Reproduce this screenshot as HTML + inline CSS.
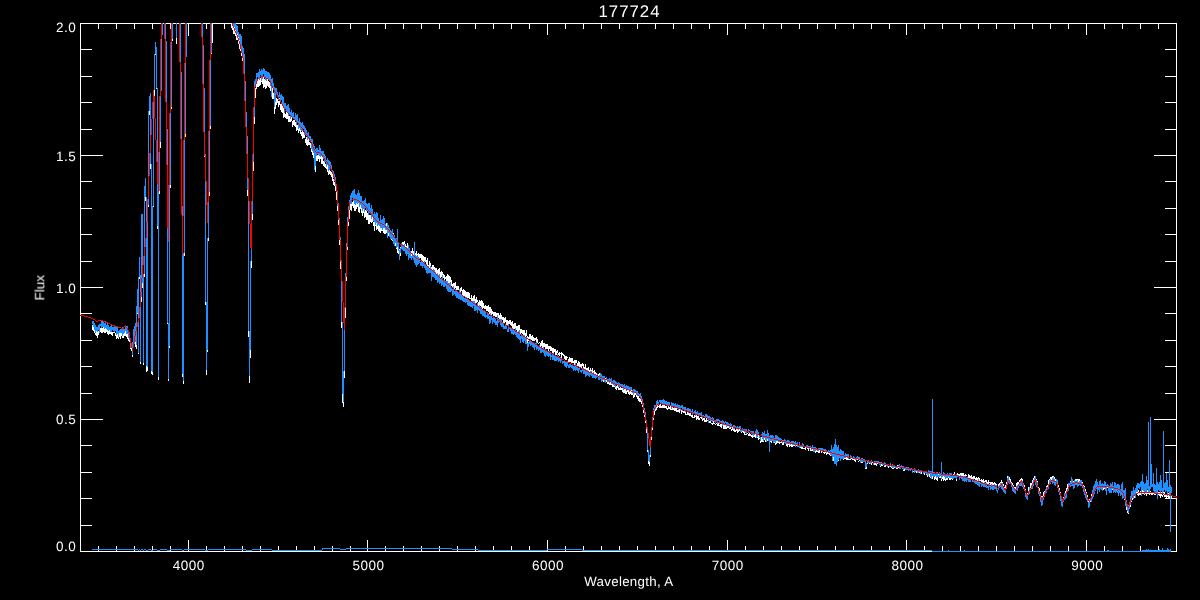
<!DOCTYPE html>
<html lang="en">
<head>
<meta charset="utf-8">
<title>177724</title>
<style>
html,body{margin:0;padding:0;background:#000;}
body{width:1200px;height:600px;overflow:hidden;}
svg{display:block;}
text{text-rendering:geometricPrecision;font-family:"Liberation Sans",sans-serif;font-size:13.5px;fill:#fff;letter-spacing:0.5px;}
.t{font-size:16.8px;letter-spacing:1px;}
path{fill:none;stroke-width:1;shape-rendering:crispEdges;}
</style>
</head>
<body>
<svg width="1200" height="600" viewBox="0 0 1200 600">
<rect width="1200" height="600" fill="#000"/>
<path stroke="#fff" d="M80.5 23.5H1176.5V551.5H80.5Z"/>
<path stroke="#fff" d="M98.5 552v-6M98.5 23v6M116.5 552v-6M116.5 23v6M134.5 552v-6M134.5 23v6M152.5 552v-6M152.5 23v6M170.5 552v-6M170.5 23v6M188.5 552v-12M188.5 23v12M206.5 552v-6M206.5 23v6M224.5 552v-6M224.5 23v6M242.5 552v-6M242.5 23v6M260.5 552v-6M260.5 23v6M278.5 552v-6M278.5 23v6M296.5 552v-6M296.5 23v6M314.5 552v-6M314.5 23v6M332.5 552v-6M332.5 23v6M350.5 552v-6M350.5 23v6M367.5 552v-12M367.5 23v12M385.5 552v-6M385.5 23v6M403.5 552v-6M403.5 23v6M421.5 552v-6M421.5 23v6M439.5 552v-6M439.5 23v6M457.5 552v-6M457.5 23v6M475.5 552v-6M475.5 23v6M493.5 552v-6M493.5 23v6M511.5 552v-6M511.5 23v6M529.5 552v-6M529.5 23v6M547.5 552v-12M547.5 23v12M565.5 552v-6M565.5 23v6M583.5 552v-6M583.5 23v6M601.5 552v-6M601.5 23v6M619.5 552v-6M619.5 23v6M637.5 552v-6M637.5 23v6M655.5 552v-6M655.5 23v6M673.5 552v-6M673.5 23v6M691.5 552v-6M691.5 23v6M709.5 552v-6M709.5 23v6M727.5 552v-12M727.5 23v12M745.5 552v-6M745.5 23v6M763.5 552v-6M763.5 23v6M781.5 552v-6M781.5 23v6M799.5 552v-6M799.5 23v6M817.5 552v-6M817.5 23v6M835.5 552v-6M835.5 23v6M853.5 552v-6M853.5 23v6M871.5 552v-6M871.5 23v6M889.5 552v-6M889.5 23v6M906.5 552v-12M906.5 23v12M924.5 552v-6M924.5 23v6M942.5 552v-6M942.5 23v6M960.5 552v-6M960.5 23v6M978.5 552v-6M978.5 23v6M996.5 552v-6M996.5 23v6M1014.5 552v-6M1014.5 23v6M1032.5 552v-6M1032.5 23v6M1050.5 552v-6M1050.5 23v6M1068.5 552v-6M1068.5 23v6M1086.5 552v-12M1086.5 23v12M1104.5 552v-6M1104.5 23v6M1122.5 552v-6M1122.5 23v6M1140.5 552v-6M1140.5 23v6M1158.5 552v-6M1158.5 23v6M80 525.5h12M1177 525.5h-12M80 498.5h12M1177 498.5h-12M80 472.5h12M1177 472.5h-12M80 445.5h12M1177 445.5h-12M80 419.5h23M1177 419.5h-23M80 393.5h12M1177 393.5h-12M80 366.5h12M1177 366.5h-12M80 340.5h12M1177 340.5h-12M80 313.5h12M1177 313.5h-12M80 287.5h23M1177 287.5h-23M80 261.5h12M1177 261.5h-12M80 234.5h12M1177 234.5h-12M80 208.5h12M1177 208.5h-12M80 181.5h12M1177 181.5h-12M80 155.5h23M1177 155.5h-23M80 129.5h12M1177 129.5h-12M80 102.5h12M1177 102.5h-12M80 76.5h12M1177 76.5h-12M80 49.5h12M1177 49.5h-12"/>
<g style="filter:opacity(1)">
<text class="t" x="629.5" y="17.2" text-anchor="middle">177724</text>
<text x="628.8" y="585.6" text-anchor="middle" style="letter-spacing:0.3px;font-size:13.3px">Wavelength, A</text>
<text transform="translate(44.3,287.7) rotate(-90)" text-anchor="middle" style="letter-spacing:0">Flux</text>
<text x="188.8" y="570.3" text-anchor="middle">4000</text><text x="368.5" y="570.3" text-anchor="middle">5000</text><text x="548.1" y="570.3" text-anchor="middle">6000</text><text x="727.8" y="570.3" text-anchor="middle">7000</text><text x="907.5" y="570.3" text-anchor="middle">8000</text><text x="1087.2" y="570.3" text-anchor="middle">9000</text>
<text x="76.3" y="551.4" text-anchor="end">0.0</text><text x="76.3" y="424.3" text-anchor="end">0.5</text><text x="76.3" y="292.8" text-anchor="end">1.0</text><text x="76.3" y="160.6" text-anchor="end">1.5</text><text x="76.3" y="32.4" text-anchor="end">2.0</text>
</g>
<path stroke="#fff" d="M92.5 325v5M93.5 326v5M94.5 328v5M95.5 329v6M96.5 331v5M97.5 332v6M98.5 331v4M99.5 328v5M100.5 328v4M101.5 326v7M102.5 328v5M103.5 327v5M104.5 327v6M105.5 328v5M106.5 328v4M107.5 327v7M108.5 328v7M109.5 329v5M110.5 332v2M111.5 331v4M112.5 332v4M113.5 332v1M114.5 330v3M115.5 333v3M116.5 332v7M117.5 332v6M118.5 334v5M119.5 332v5M120.5 332v7M121.5 331v5M122.5 334v4M123.5 333v5M124.5 332v4M125.5 331v5M126.5 333v4M127.5 333v6M128.5 335v6M129.5 338v4M130.5 342v7M131.5 347v4M132.5 346v11M133.5 334v13M134.5 329v15M135.5 325v22M136.5 310v39M137.5 293v21M138.5 279v75M139.5 261v18M140.5 279v85M141.5 222v80M142.5 216v72M143.5 277v88M144.5 193v84M145.5 185v16M146.5 201v171M147.5 207v164M148.5 115v92M149.5 100v15M150.5 103v66M151.5 169v205M152.5 207v168M153.5 99v108M154.5 54v45M155.5 47v8M156.5 48v41M157.5 89v140M158.5 186v194M159.5 148v46M160.5 89v59M161.5 35v54M162.5 23v12M165.5 23v23M166.5 46v87M167.5 133v191M168.5 324v57M169.5 188v160M170.5 109v79M171.5 41v68M172.5 23v18M176.5 23v21M180.5 23v52M181.5 75v133M182.5 208v169M183.5 256v128M184.5 137v119M185.5 53v84M186.5 23v30M188.5 23v13M202.5 23v24M203.5 47v46M204.5 93v64M205.5 157v148M206.5 305v70M207.5 241v111M208.5 196v45M209.5 129v67M210.5 54v75M211.5 23v31M212.5 23v20M231.5 23v5M232.5 23v7M233.5 26v8M234.5 27v7M235.5 27v9M236.5 30v10M237.5 34v6M238.5 36v8M239.5 36v13M240.5 42v9M241.5 50v6M242.5 53v8M243.5 53v10M244.5 62v27M245.5 89v34M246.5 122v23M247.5 145v51M248.5 196v141M249.5 337v46M250.5 268v90M251.5 220v48M252.5 171v49M253.5 124v47M254.5 89v35M255.5 88v10M256.5 78v11M257.5 80v7M258.5 79v8M259.5 78v8M260.5 78v7M261.5 75v7M262.5 79v5M263.5 77v11M264.5 79v8M265.5 78v11M266.5 80v8M267.5 79v7M268.5 81v6M269.5 82v6M270.5 82v9M271.5 86v7M272.5 86v13M273.5 93v6M274.5 95v19M275.5 96v13M276.5 98v7M277.5 99v4M278.5 101v6M279.5 98v7M280.5 104v6M281.5 103v9M282.5 106v7M283.5 107v11M284.5 110v7M285.5 114v4M286.5 112v7M287.5 113v6M288.5 115v7M289.5 116v6M290.5 117v5M291.5 117v4M292.5 121v6M293.5 120v5M294.5 120v6M295.5 122v5M296.5 124v7M297.5 125v5M298.5 126v7M299.5 126v5M300.5 129v5M301.5 132v4M302.5 130v9M303.5 132v6M304.5 135v3M305.5 139v4M306.5 137v8M307.5 138v8M308.5 139v6M309.5 142v3M310.5 143v5M311.5 146v6M312.5 143v12M313.5 149v9M314.5 154v14M315.5 159v13M316.5 156v5M317.5 155v6M318.5 155v4M319.5 155v7M320.5 155v4M321.5 156v8M322.5 155v9M323.5 161v5M324.5 162v5M325.5 164v4M326.5 166v3M327.5 165v7M328.5 167v8M329.5 168v6M330.5 171v4M331.5 172v5M332.5 173v8M333.5 179v6M334.5 182v4M335.5 184v7M336.5 191v9M337.5 195v16M338.5 211v14M339.5 225v20M340.5 245v24M341.5 269v59M342.5 328v75M343.5 378v29M344.5 318v60M345.5 281v37M346.5 250v31M347.5 226v24M348.5 217v9M349.5 206v13M350.5 198v12M351.5 200v11M352.5 202v4M353.5 199v9M354.5 202v9M355.5 201v10M356.5 201v8M357.5 204v3M358.5 202v10M359.5 205v8M360.5 205v4M361.5 205v8M362.5 209v7M363.5 203v10M364.5 209v9M365.5 210v7M366.5 209v11M367.5 213v7M368.5 215v9M369.5 215v9M370.5 215v7M371.5 216v7M372.5 216v6M373.5 222v4M374.5 220v11M375.5 219v7M376.5 221v9M377.5 221v8M378.5 223v8M379.5 224v8M380.5 226v7M381.5 226v5M382.5 225v6M383.5 226v7M384.5 226v8M385.5 226v8M386.5 223v10M387.5 227v10M388.5 227v9M389.5 233v4M390.5 231v6M391.5 233v7M392.5 232v9M393.5 233v8M394.5 235v8M395.5 241v5M396.5 240v9M397.5 241v12M398.5 247v7M399.5 249v5M400.5 247v9M401.5 244v5M402.5 242v8M403.5 242v8M404.5 241v6M405.5 244v7M406.5 246v7M407.5 243v10M408.5 248v9M409.5 248v7M410.5 251v5M411.5 251v6M412.5 248v10M413.5 251v6M414.5 252v7M415.5 253v11M416.5 251v10M417.5 254v6M418.5 253v4M419.5 254v6M420.5 254v4M421.5 254v9M422.5 255v9M423.5 256v6M424.5 257v5M425.5 257v5M426.5 260v7M427.5 258v9M428.5 265v1M429.5 261v9M430.5 263v5M431.5 267v3M432.5 265v6M433.5 265v6M434.5 267v6M435.5 268v5M436.5 268v6M437.5 270v6M438.5 269v7M439.5 268v11M440.5 272v7M441.5 271v6M442.5 272v3M443.5 274v4M444.5 275v6M445.5 277v2M446.5 276v5M447.5 274v9M448.5 275v10M449.5 276v10M450.5 277v9M451.5 280v6M452.5 284v3M453.5 283v7M454.5 283v6M455.5 282v6M456.5 286v5M457.5 286v4M458.5 286v4M459.5 289v4M460.5 288v4M461.5 287v4M462.5 290v5M463.5 289v7M464.5 290v7M465.5 291v7M466.5 292v7M467.5 292v7M468.5 292v6M469.5 293v6M470.5 298v1M471.5 295v6M472.5 298v6M473.5 296v6M474.5 295v7M475.5 299v5M476.5 297v6M477.5 300v2M478.5 302v5M479.5 300v6M480.5 301v5M481.5 300v7M482.5 301v8M483.5 303v5M484.5 306v3M485.5 305v4M486.5 306v5M487.5 306v5M488.5 305v7M489.5 307v8M490.5 307v7M491.5 309v6M492.5 311v3M493.5 312v4M494.5 312v4M495.5 312v5M496.5 313v4M497.5 313v5M498.5 313v5M499.5 315v5M500.5 313v6M501.5 315v7M502.5 317v3M503.5 317v6M504.5 318v5M505.5 317v5M506.5 320v5M507.5 320v5M508.5 321v6M509.5 320v4M510.5 320v5M511.5 322v4M512.5 321v9M513.5 324v6M514.5 323v6M515.5 323v6M516.5 326v4M517.5 326v9M518.5 325v8M519.5 325v6M520.5 329v5M521.5 329v4M522.5 330v4M523.5 330v7M524.5 330v7M525.5 333v5M526.5 330v6M527.5 336v7M528.5 337v4M529.5 334v5M530.5 334v6M531.5 336v4M532.5 335v6M533.5 337v4M534.5 338v3M535.5 338v2M536.5 337v5M537.5 339v4M538.5 343v1M539.5 342v1M540.5 343v4M541.5 341v5M542.5 340v8M543.5 343v5M544.5 343v4M545.5 344v5M546.5 344v5M547.5 344v5M548.5 346v5M549.5 346v3M550.5 346v5M551.5 347v4M552.5 348v5M553.5 348v5M554.5 349v3M555.5 349v6M556.5 351v4M557.5 350v3M558.5 353v2M559.5 352v4M560.5 353v1M561.5 352v6M562.5 353v2M563.5 354v2M564.5 355v4M565.5 356v4M566.5 356v4M567.5 357v1M568.5 359v3M569.5 357v6M570.5 358v4M571.5 358v5M572.5 358v5M573.5 361v2M574.5 360v5M575.5 360v5M576.5 360v3M577.5 363v4M578.5 361v6M579.5 362v5M580.5 364v4M581.5 364v4M582.5 363v3M583.5 364v8M584.5 367v4M585.5 364v7M586.5 368v4M587.5 368v2M588.5 367v4M589.5 370v2M590.5 368v5M591.5 370v2M592.5 368v7M593.5 371v3M594.5 370v4M595.5 372v4M596.5 373v2M597.5 376v1M598.5 374v4M599.5 373v6M600.5 374v3M601.5 375v3M602.5 377v4M603.5 376v6M604.5 378v4M605.5 378v3M606.5 380v2M607.5 380v4M608.5 381v3M609.5 383v2M610.5 382v3M611.5 382v3M612.5 384v3M613.5 384v3M614.5 384v3M615.5 385v4M616.5 386v4M617.5 385v3M618.5 386v4M619.5 388v2M620.5 387v3M621.5 388v2M622.5 387v5M623.5 389v4M624.5 389v4M625.5 389v5M626.5 390v4M627.5 390v2M628.5 390v4M629.5 390v5M630.5 391v3M631.5 390v5M632.5 393v2M633.5 392v6M634.5 392v5M635.5 393v2M636.5 394v3M637.5 396v3M638.5 396v5M639.5 398v4M640.5 399v3M641.5 401v3M642.5 404v3M643.5 407v6M644.5 412v5M645.5 416v7M646.5 423v10M647.5 433v19M648.5 452v12M649.5 457v9M650.5 440v17M651.5 430v10M652.5 420v10M653.5 412v8M654.5 409v6M655.5 407v4M656.5 406v4M657.5 405v3M658.5 406v1M659.5 405v3M660.5 404v4M661.5 406v2M662.5 405v3M663.5 404v4M664.5 405v3M665.5 406v2M666.5 406v3M667.5 408v2M668.5 406v3M669.5 407v2M670.5 406v4M671.5 406v4M672.5 407v3M673.5 408v2M674.5 407v4M675.5 408v3M676.5 408v4M677.5 410v2M678.5 409v3M679.5 409v4M680.5 409v2M681.5 410v4M682.5 411v1M683.5 411v2M684.5 411v2M685.5 412v3M686.5 414v1M687.5 412v3M688.5 412v3M689.5 413v3M690.5 413v3M691.5 415v2M692.5 414v4M693.5 417v1M694.5 415v3M695.5 416v1M696.5 415v5M697.5 416v3M698.5 416v4M699.5 418v2M700.5 417v1M701.5 416v3M702.5 418v3M703.5 418v2M704.5 418v4M705.5 420v2M706.5 418v4M707.5 420v1M708.5 420v2M709.5 421v2M710.5 420v3M711.5 423v1M712.5 423v2M713.5 421v3M714.5 423v1M715.5 424v1M716.5 423v1M717.5 424v2M718.5 423v3M719.5 425v1M720.5 424v3M721.5 424v4M722.5 424v2M723.5 424v5M724.5 425v4M725.5 425v4M726.5 425v4M727.5 425v3M728.5 426v2M729.5 428v1M730.5 427v2M731.5 429v2M732.5 427v3M733.5 428v3M734.5 427v5M735.5 430v2M736.5 429v2M737.5 429v4M738.5 428v4M739.5 429v2M740.5 430v1M741.5 430v3M742.5 431v1M743.5 431v2M744.5 432v3M745.5 434v1M746.5 432v3M747.5 433v1M748.5 434v2M749.5 433v3M750.5 434v2M751.5 435v2M752.5 435v3M753.5 434v3M754.5 435v2M755.5 434v4M756.5 435v3M757.5 434v4M758.5 435v5M759.5 435v4M760.5 437v6M761.5 437v5M762.5 436v6M763.5 435v7M764.5 435v5M765.5 438v4M766.5 438v4M767.5 436v5M768.5 436v5M769.5 438v4M770.5 439v3M771.5 440v3M772.5 437v4M773.5 440v2M774.5 438v5M775.5 439v6M776.5 439v5M777.5 440v3M778.5 441v2M779.5 441v3M780.5 442v1M781.5 441v2M782.5 441v4M783.5 442v3M784.5 442v1M785.5 442v1M786.5 442v4M787.5 443v4M788.5 443v2M789.5 443v4M790.5 443v3M791.5 443v4M792.5 444v3M793.5 444v2M794.5 444v2M795.5 445v1M796.5 444v2M797.5 444v2M798.5 445v2M799.5 446v1M800.5 447v1M801.5 447v2M802.5 446v3M803.5 448v1M804.5 448v1M805.5 446v4M806.5 447v1M807.5 448v1M808.5 448v3M809.5 448v1M810.5 448v3M811.5 450v1M812.5 449v2M813.5 448v4M814.5 449v3M815.5 449v4M816.5 449v3M817.5 449v3M818.5 451v2M819.5 450v3M820.5 450v1M821.5 450v3M822.5 451v1M823.5 452v1M824.5 451v3M825.5 451v2M826.5 453v2M827.5 452v2M828.5 452v2M829.5 452v3M830.5 454v2M831.5 451v4M832.5 450v8M833.5 453v8M834.5 452v6M835.5 452v9M836.5 450v12M837.5 452v7M838.5 452v9M839.5 452v6M840.5 456v5M841.5 455v4M842.5 453v4M843.5 456v4M844.5 455v4M845.5 455v4M846.5 456v4M847.5 458v2M848.5 456v4M849.5 459v1M850.5 459v1M851.5 458v1M852.5 459v1M853.5 459v1M854.5 458v3M855.5 460v2M856.5 458v2M857.5 459v1M858.5 461v1M859.5 459v2M860.5 460v3M861.5 459v4M862.5 461v2M863.5 459v2M864.5 461v1M865.5 462v7M866.5 464v5M867.5 461v3M868.5 462v1M869.5 463v1M870.5 462v2M871.5 461v4M872.5 462v1M873.5 463v2M874.5 462v3M875.5 462v3M876.5 463v3M877.5 463v1M878.5 463v1M879.5 463v1M880.5 464v3M881.5 463v3M882.5 463v3M883.5 464v1M884.5 464v3M885.5 464v3M886.5 464v2M887.5 465v1M888.5 466v2M889.5 465v1M890.5 465v2M891.5 467v1M892.5 466v3M893.5 466v3M894.5 467v1M895.5 467v1M896.5 467v2M897.5 465v4M898.5 466v2M899.5 467v1M900.5 468v1M901.5 467v1M902.5 467v1M903.5 467v4M904.5 467v4M905.5 467v3M906.5 469v1M907.5 469v1M908.5 468v3M909.5 468v1M910.5 469v1M911.5 469v1M912.5 469v3M913.5 471v1M914.5 469v3M915.5 471v1M916.5 470v3M917.5 471v2M918.5 470v3M919.5 472v1M920.5 470v4M921.5 471v3M922.5 471v1M923.5 471v3M924.5 473v2M925.5 472v1M926.5 472v3M927.5 472v5M928.5 471v5M929.5 472v5M930.5 475v3M931.5 474v4M932.5 473v6M933.5 474v2M934.5 473v7M935.5 474v5M936.5 474v6M937.5 475v6M938.5 473v4M939.5 472v6M940.5 475v3M941.5 474v7M942.5 475v4M943.5 475v6M944.5 475v5M945.5 476v5M946.5 475v5M947.5 475v5M948.5 475v3M949.5 475v5M950.5 475v5M951.5 473v6M952.5 475v5M953.5 474v5M954.5 472v6M955.5 475v2M956.5 474v7M957.5 473v4M958.5 474v2M959.5 474v2M960.5 473v4M961.5 473v5M962.5 473v5M963.5 473v4M964.5 475v3M965.5 474v4M966.5 475v1M967.5 477v1M968.5 474v4M969.5 475v4M970.5 476v3M971.5 475v5M972.5 477v3M973.5 476v3M974.5 476v3M975.5 478v2M976.5 477v5M977.5 478v4M978.5 477v5M979.5 478v4M980.5 480v1M981.5 479v4M982.5 480v4M983.5 479v4M984.5 481v2M985.5 480v2M986.5 480v4M987.5 482v2M988.5 480v5M989.5 482v1M990.5 482v4M991.5 482v2M992.5 482v4M993.5 483v3M994.5 482v4M995.5 483v2M996.5 484v4M997.5 488v1M998.5 484v4M999.5 483v2M1000.5 482v1M1001.5 480v3M1002.5 482v3M1003.5 484v3M1004.5 487v3M1005.5 485v6M1006.5 482v3M1007.5 476v6M1008.5 476v5M1009.5 477v5M1010.5 479v3M1011.5 482v1M1012.5 483v2M1013.5 485v3M1014.5 487v4M1015.5 487v3M1016.5 483v5M1017.5 482v5M1018.5 482v3M1019.5 480v2M1020.5 479v2M1021.5 478v3M1022.5 479v4M1023.5 483v2M1024.5 485v4M1025.5 489v6M1026.5 494v2M1027.5 493v4M1028.5 487v6M1029.5 487v5M1030.5 483v5M1031.5 483v3M1032.5 480v6M1033.5 478v4M1034.5 476v4M1035.5 476v5M1036.5 479v3M1037.5 481v7M1038.5 487v3M1039.5 488v4M1040.5 492v7M1041.5 496v6M1042.5 496v5M1043.5 492v5M1044.5 491v4M1045.5 489v2M1046.5 486v4M1047.5 485v3M1048.5 480v5M1049.5 479v2M1050.5 477v5M1051.5 477v3M1052.5 476v3M1053.5 476v5M1054.5 477v5M1055.5 479v3M1056.5 479v3M1057.5 480v5M1058.5 485v3M1059.5 488v6M1060.5 492v6M1061.5 496v5M1062.5 501v2M1063.5 497v4M1064.5 493v4M1065.5 491v5M1066.5 488v5M1067.5 484v6M1068.5 485v3M1069.5 483v2M1070.5 481v3M1071.5 480v3M1072.5 479v3M1073.5 481v4M1074.5 480v1M1075.5 479v2M1076.5 479v3M1077.5 479v2M1078.5 479v3M1079.5 479v4M1080.5 480v1M1081.5 480v3M1082.5 482v3M1083.5 485v3M1084.5 486v4M1085.5 489v3M1086.5 492v5M1087.5 495v4M1088.5 499v6M1089.5 499v6M1090.5 498v4M1091.5 494v4M1092.5 490v4M1093.5 489v3M1094.5 487v4M1095.5 484v5M1096.5 484v4M1097.5 484v3M1098.5 485v3M1099.5 485v3M1100.5 485v3M1101.5 485v4M1102.5 485v5M1103.5 486v4M1104.5 486v3M1105.5 485v4M1106.5 488v3M1107.5 486v2M1108.5 486v4M1109.5 487v3M1110.5 487v2M1111.5 488v3M1112.5 486v4M1113.5 487v5M1114.5 486v6M1115.5 489v3M1116.5 488v4M1117.5 487v5M1118.5 489v4M1119.5 489v4M1120.5 490v4M1121.5 492v2M1122.5 491v3M1123.5 494v4M1124.5 496v4M1125.5 500v3M1126.5 502v8M1127.5 509v4M1128.5 509v5M1129.5 505v4M1130.5 500v7M1131.5 497v5M1132.5 497v3M1133.5 492v6M1134.5 495v3M1135.5 492v5M1136.5 492v2M1137.5 489v6M1138.5 490v6M1139.5 492v3M1140.5 491v4M1141.5 489v5M1142.5 490v4M1143.5 490v4M1144.5 492v3M1145.5 489v5M1146.5 491v5M1147.5 490v4M1148.5 492v2M1149.5 491v4M1150.5 491v3M1151.5 492v3M1152.5 492v3M1153.5 493v1M1154.5 492v3M1155.5 491v4M1156.5 492v2M1157.5 491v5M1158.5 492v3M1159.5 492v4M1160.5 494v4M1161.5 492v4M1162.5 495v2M1163.5 492v3M1164.5 492v5M1165.5 494v3M1166.5 495v3M1167.5 494v3M1168.5 493v5M1169.5 493v5M1170.5 495v4M1171.5 496v3"/>
<path stroke="#1e90ff" d="M92.5 321v3M93.5 321v6M94.5 323v7M95.5 325v8M96.5 327v4M97.5 327v5M98.5 325v5M99.5 324v9M100.5 324v2M101.5 320v8M102.5 321v6M103.5 322v5M104.5 323v6M105.5 321v7M106.5 325v4M107.5 323v7M108.5 325v6M109.5 327v3M110.5 326v6M111.5 325v7M112.5 327v3M113.5 327v4M114.5 326v6M115.5 326v5M116.5 327v8M117.5 327v7M118.5 331v6M119.5 330v3M120.5 329v4M121.5 329v4M122.5 327v9M123.5 329v5M124.5 329v4M125.5 327v4M126.5 326v8M127.5 326v8M128.5 333v5M129.5 332v8M130.5 340v8M131.5 344v4M132.5 342v13M133.5 329v13M134.5 326v18M135.5 323v19M136.5 306v39M137.5 289v24M138.5 277v76M139.5 257v20M140.5 275v87M141.5 214v83M142.5 214v69M143.5 274v89M144.5 186v88M145.5 178v19M146.5 197v169M147.5 205v162M148.5 111v94M149.5 96v15M150.5 93v71M151.5 164v207M152.5 206v166M153.5 90v116M154.5 54v36M155.5 42v12M156.5 47v41M157.5 88v138M158.5 186v191M159.5 142v49M160.5 91v51M161.5 35v56M162.5 23v12M165.5 23v18M166.5 41v88M167.5 129v194M168.5 323v56M169.5 185v161M170.5 107v78M171.5 39v68M172.5 23v16M176.5 23v15M180.5 23v49M181.5 72v134M182.5 206v168M183.5 253v128M184.5 134v119M185.5 57v77M186.5 23v34M202.5 23v22M203.5 45v43M204.5 88v66M205.5 154v148M206.5 302v68M207.5 238v112M208.5 192v46M209.5 126v66M210.5 53v73M211.5 23v30M232.5 23v1M233.5 23v3M234.5 23v4M235.5 23v7M236.5 25v8M237.5 26v8M238.5 32v5M239.5 34v6M240.5 34v12M241.5 36v14M242.5 46v8M243.5 48v12M244.5 54v27M245.5 81v31M246.5 112v24M247.5 136v54M248.5 190v141M249.5 331v45M250.5 261v89M251.5 214v47M252.5 162v52M253.5 117v45M254.5 81v36M255.5 79v6M256.5 73v9M257.5 73v4M258.5 72v7M259.5 69v11M260.5 71v4M261.5 69v12M262.5 70v9M263.5 68v6M264.5 69v9M265.5 71v9M266.5 71v10M267.5 72v7M268.5 72v8M269.5 73v8M270.5 75v11M271.5 79v18M272.5 78v9M273.5 83v7M274.5 87v20M275.5 88v14M276.5 88v7M277.5 92v5M278.5 95v5M279.5 92v5M280.5 95v7M281.5 94v6M282.5 96v8M283.5 97v11M284.5 103v10M285.5 103v6M286.5 106v5M287.5 105v8M288.5 104v12M289.5 108v7M290.5 112v7M291.5 110v6M292.5 113v5M293.5 112v7M294.5 117v3M295.5 113v7M296.5 115v10M297.5 114v8M298.5 121v8M299.5 118v10M300.5 122v8M301.5 123v8M302.5 122v9M303.5 125v4M304.5 126v9M305.5 128v7M306.5 130v6M307.5 133v7M308.5 132v7M309.5 136v5M310.5 136v5M311.5 139v10M312.5 139v12M313.5 144v9M314.5 146v24M315.5 149v17M316.5 148v8M317.5 148v6M318.5 150v5M319.5 145v11M320.5 148v9M321.5 151v5M322.5 151v4M323.5 151v8M324.5 154v8M325.5 156v6M326.5 160v7M327.5 158v7M328.5 160v11M329.5 161v9M330.5 162v6M331.5 165v5M332.5 170v4M333.5 171v7M334.5 174v7M335.5 177v9M336.5 184v7M337.5 191v15M338.5 203v15M339.5 218v19M340.5 237v25M341.5 262v60M342.5 322v72M343.5 371v31M344.5 308v63M345.5 273v35M346.5 243v30M347.5 217v26M348.5 206v15M349.5 200v10M350.5 195v9M351.5 193v11M352.5 191v7M353.5 190v11M354.5 189v15M355.5 194v11M356.5 195v8M357.5 193v11M358.5 190v13M359.5 193v14M360.5 196v9M361.5 196v12M362.5 201v10M363.5 201v8M364.5 200v12M365.5 198v10M366.5 203v8M367.5 204v7M368.5 203v12M369.5 203v10M370.5 208v6M371.5 205v14M372.5 209v8M373.5 214v7M374.5 212v10M375.5 214v11M376.5 212v11M377.5 213v13M378.5 218v7M379.5 221v5M380.5 215v13M381.5 220v8M382.5 219v11M383.5 216v12M384.5 218v10M385.5 224v6M386.5 226v4M387.5 223v15M388.5 225v8M389.5 228v9M390.5 230v9M391.5 231v8M392.5 229v11M393.5 234v10M394.5 235v11M395.5 238v5M396.5 238v10M397.5 229v18M398.5 242v9M399.5 250v10M400.5 248v5M401.5 243v6M402.5 244v6M403.5 245v6M404.5 244v7M405.5 247v7M406.5 247v9M407.5 248v6M408.5 245v15M409.5 248v10M410.5 251v7M411.5 256v4M412.5 253v5M413.5 255v5M414.5 242v21M415.5 255v10M416.5 256v11M417.5 255v10M418.5 257v7M419.5 258v5M420.5 262v4M421.5 261v5M422.5 261v7M423.5 263v3M424.5 261v7M425.5 264v6M426.5 264v9M427.5 266v8M428.5 266v7M429.5 268v5M430.5 266v7M431.5 269v12M432.5 271v6M433.5 269v8M434.5 270v8M435.5 272v8M436.5 275v5M437.5 273v10M438.5 275v7M439.5 274v10M440.5 279v4M441.5 279v7M442.5 275v10M443.5 281v6M444.5 280v7M445.5 281v5M446.5 281v8M447.5 281v10M448.5 283v9M449.5 283v9M450.5 282v10M451.5 288v3M452.5 289v7M453.5 286v9M454.5 291v3M455.5 289v7M456.5 290v8M457.5 291v7M458.5 292v7M459.5 289v10M460.5 292v8M461.5 294v6M462.5 296v5M463.5 297v5M464.5 298v4M465.5 298v5M466.5 297v5M467.5 299v6M468.5 300v6M469.5 300v6M470.5 301v6M471.5 302v5M472.5 301v7M473.5 301v5M474.5 301v10M475.5 303v8M476.5 306v4M477.5 303v10M478.5 306v4M479.5 305v6M480.5 307v7M481.5 307v7M482.5 310v6M483.5 311v5M484.5 310v7M485.5 311v7M486.5 315v2M487.5 312v7M488.5 314v5M489.5 316v8M490.5 313v10M491.5 315v5M492.5 318v6M493.5 317v5M494.5 318v5M495.5 318v7M496.5 321v4M497.5 315v12M498.5 319v4M499.5 319v3M500.5 319v6M501.5 319v8M502.5 322v5M503.5 323v6M504.5 326v3M505.5 324v5M506.5 326v3M507.5 329v3M508.5 324v8M509.5 327v2M510.5 327v4M511.5 328v6M512.5 328v6M513.5 330v5M514.5 330v4M515.5 328v7M516.5 331v6M517.5 332v6M518.5 331v8M519.5 330v10M520.5 336v7M521.5 335v4M522.5 336v6M523.5 335v8M524.5 335v6M525.5 338v6M526.5 337v7M527.5 343v8M528.5 342v5M529.5 340v4M530.5 339v7M531.5 341v4M532.5 342v5M533.5 342v6M534.5 343v7M535.5 343v4M536.5 342v8M537.5 345v4M538.5 347v4M539.5 345v5M540.5 348v5M541.5 347v6M542.5 348v4M543.5 347v6M544.5 350v6M545.5 349v8M546.5 351v4M547.5 352v4M548.5 351v6M549.5 351v5M550.5 352v8M551.5 355v2M552.5 353v7M553.5 353v7M554.5 355v6M555.5 355v6M556.5 357v4M557.5 354v6M558.5 356v6M559.5 357v4M560.5 357v6M561.5 359v2M562.5 361v3M563.5 361v2M564.5 360v6M565.5 362v5M566.5 361v7M567.5 362v4M568.5 365v3M569.5 364v4M570.5 364v3M571.5 365v3M572.5 365v4M573.5 366v5M574.5 365v5M575.5 363v8M576.5 365v5M577.5 367v4M578.5 368v5M579.5 367v3M580.5 370v2M581.5 370v3M582.5 368v3M583.5 368v6M584.5 370v4M585.5 369v8M586.5 371v5M587.5 370v5M588.5 371v5M589.5 372v5M590.5 371v4M591.5 371v5M592.5 373v5M593.5 372v6M594.5 374v4M595.5 374v5M596.5 376v2M597.5 374v3M598.5 376v4M599.5 375v5M600.5 373v6M601.5 374v8M602.5 376v5M603.5 376v4M604.5 376v6M605.5 379v4M606.5 377v3M607.5 379v3M608.5 379v3M609.5 378v5M610.5 379v2M611.5 378v6M612.5 381v3M613.5 380v5M614.5 380v6M615.5 381v6M616.5 382v3M617.5 383v2M618.5 382v5M619.5 383v4M620.5 384v2M621.5 384v3M622.5 384v4M623.5 385v5M624.5 384v5M625.5 386v2M626.5 385v6M627.5 386v4M628.5 386v4M629.5 387v5M630.5 387v4M631.5 387v3M632.5 390v3M633.5 389v6M634.5 389v4M635.5 390v2M636.5 391v4M637.5 391v5M638.5 393v2M639.5 394v3M640.5 393v4M641.5 396v5M642.5 399v4M643.5 403v5M644.5 408v4M645.5 412v8M646.5 420v9M647.5 429v21M648.5 450v11M649.5 455v7M650.5 437v18M651.5 428v9M652.5 417v11M653.5 408v9M654.5 405v6M655.5 405v4M656.5 401v4M657.5 400v5M658.5 402v3M659.5 400v2M660.5 400v4M661.5 400v4M662.5 400v4M663.5 399v5M664.5 400v4M665.5 401v3M666.5 401v5M667.5 402v3M668.5 402v3M669.5 402v4M670.5 405v1M671.5 402v7M672.5 403v3M673.5 403v4M674.5 404v4M675.5 403v5M676.5 405v2M677.5 404v5M678.5 405v5M679.5 405v4M680.5 406v5M681.5 405v3M682.5 405v6M683.5 407v2M684.5 407v3M685.5 407v5M686.5 409v2M687.5 408v3M688.5 408v5M689.5 409v2M690.5 409v4M691.5 411v1M692.5 409v6M693.5 412v1M694.5 411v3M695.5 410v6M696.5 412v3M697.5 411v4M698.5 413v3M699.5 413v3M700.5 413v3M701.5 412v5M702.5 415v4M703.5 415v1M704.5 416v2M705.5 414v4M706.5 414v3M707.5 415v4M708.5 416v7M709.5 416v4M710.5 417v4M711.5 418v3M712.5 417v5M713.5 418v2M714.5 421v1M715.5 420v3M716.5 419v3M717.5 419v5M718.5 419v2M719.5 420v4M720.5 421v1M721.5 421v2M722.5 420v6M723.5 421v4M724.5 422v3M725.5 421v2M726.5 422v5M727.5 422v4M728.5 423v2M729.5 424v4M730.5 423v3M731.5 424v4M732.5 426v1M733.5 425v4M734.5 425v4M735.5 426v1M736.5 427v2M737.5 426v2M738.5 427v3M739.5 426v2M740.5 426v6M741.5 429v3M742.5 428v3M743.5 429v2M744.5 429v3M745.5 429v4M746.5 429v5M747.5 431v1M748.5 429v4M749.5 430v1M750.5 431v2M751.5 431v3M752.5 431v4M753.5 431v5M754.5 433v2M755.5 431v2M756.5 429v9M757.5 430v7M758.5 432v3M759.5 435v3M760.5 437v4M761.5 434v2M762.5 432v7M763.5 433v8M764.5 431v7M765.5 434v6M766.5 434v8M767.5 430v9M768.5 433v8M769.5 436v16M770.5 435v6M771.5 435v6M772.5 435v6M773.5 436v7M774.5 438v4M775.5 435v8M776.5 435v6M777.5 436v5M778.5 437v5M779.5 438v4M780.5 438v3M781.5 439v3M782.5 440v3M783.5 440v1M784.5 439v4M785.5 440v4M786.5 441v3M787.5 440v4M788.5 440v4M789.5 441v3M790.5 442v3M791.5 441v3M792.5 441v4M793.5 441v4M794.5 442v3M795.5 441v6M796.5 443v2M797.5 442v5M798.5 445v2M799.5 442v6M800.5 445v2M801.5 445v2M802.5 443v4M803.5 444v3M804.5 446v1M805.5 446v1M806.5 445v3M807.5 445v2M808.5 446v2M809.5 446v3M810.5 446v2M811.5 447v3M812.5 445v4M813.5 447v5M814.5 447v5M815.5 447v4M816.5 448v2M817.5 449v2M818.5 448v3M819.5 448v2M820.5 448v3M821.5 448v3M822.5 448v4M823.5 449v2M824.5 449v2M825.5 449v2M826.5 450v3M827.5 451v1M828.5 450v2M829.5 451v2M830.5 450v5M831.5 445v11M832.5 449v12M833.5 447v10M834.5 444v20M835.5 439v25M836.5 445v21M837.5 447v15M838.5 445v15M839.5 451v7M840.5 449v12M841.5 450v9M842.5 451v8M843.5 451v8M844.5 455v3M845.5 453v5M846.5 454v3M847.5 454v4M848.5 454v5M849.5 457v1M850.5 455v4M851.5 456v2M852.5 458v1M853.5 456v2M854.5 457v2M855.5 458v2M856.5 457v3M857.5 456v3M858.5 457v3M859.5 457v3M860.5 460v3M861.5 458v4M862.5 458v4M863.5 459v3M864.5 459v3M865.5 460v8M866.5 463v4M867.5 460v3M868.5 460v3M869.5 461v2M870.5 461v3M871.5 460v3M872.5 461v1M873.5 462v3M874.5 461v2M875.5 461v2M876.5 461v3M877.5 461v1M878.5 461v3M879.5 462v3M880.5 462v4M881.5 462v2M882.5 464v1M883.5 463v2M884.5 462v4M885.5 463v1M886.5 465v1M887.5 465v2M888.5 464v1M889.5 465v2M890.5 463v3M891.5 466v1M892.5 464v4M893.5 465v3M894.5 466v1M895.5 466v2M896.5 466v2M897.5 466v2M898.5 465v2M899.5 464v5M900.5 466v3M901.5 465v2M902.5 466v3M903.5 466v4M904.5 468v1M905.5 467v3M906.5 467v3M907.5 467v3M908.5 467v4M909.5 469v1M910.5 468v3M911.5 468v1M912.5 470v3M913.5 469v1M914.5 468v5M915.5 469v3M916.5 470v1M917.5 471v2M918.5 469v4M919.5 471v1M920.5 470v4M921.5 470v2M922.5 471v1M923.5 471v3M924.5 472v1M925.5 471v2M926.5 472v2M927.5 472v3M928.5 470v6M929.5 471v3M930.5 471v6M931.5 471v8M932.5 399v77M933.5 472v5M934.5 472v5M935.5 474v2M936.5 472v6M937.5 472v5M938.5 475v2M939.5 472v5M940.5 473v3M941.5 462v17M942.5 475v2M943.5 472v4M944.5 473v4M945.5 475v4M946.5 474v4M947.5 473v5M948.5 474v3M949.5 473v5M950.5 473v5M951.5 473v5M952.5 476v3M953.5 475v4M954.5 474v4M955.5 476v2M956.5 474v5M957.5 475v2M958.5 475v2M959.5 476v4M960.5 475v3M961.5 476v3M962.5 476v5M963.5 476v5M964.5 476v6M965.5 476v5M966.5 477v5M967.5 477v3M968.5 478v4M969.5 478v4M970.5 478v4M971.5 479v1M972.5 479v3M973.5 479v3M974.5 480v3M975.5 480v4M976.5 481v3M977.5 482v3M978.5 479v7M979.5 482v5M980.5 483v1M981.5 482v5M982.5 482v4M983.5 484v3M984.5 482v5M985.5 483v4M986.5 483v5M987.5 486v2M988.5 484v6M989.5 484v3M990.5 485v5M991.5 484v5M992.5 486v4M993.5 486v4M994.5 484v5M995.5 485v4M996.5 485v6M997.5 490v3M998.5 486v4M999.5 485v3M1000.5 483v4M1001.5 483v6M1002.5 483v7M1003.5 486v6M1004.5 489v4M1005.5 489v5M1006.5 485v4M1007.5 478v7M1008.5 476v7M1009.5 480v4M1010.5 482v2M1011.5 483v4M1012.5 485v6M1013.5 486v6M1014.5 490v3M1015.5 490v4M1016.5 486v4M1017.5 485v6M1018.5 484v4M1019.5 483v3M1020.5 482v4M1021.5 482v4M1022.5 481v6M1023.5 483v6M1024.5 489v2M1025.5 491v6M1026.5 495v4M1027.5 495v5M1028.5 491v4M1029.5 487v7M1030.5 488v2M1031.5 485v4M1032.5 483v6M1033.5 480v6M1034.5 478v3M1035.5 476v9M1036.5 480v7M1037.5 482v6M1038.5 488v6M1039.5 491v5M1040.5 493v9M1041.5 498v8M1042.5 497v8M1043.5 496v4M1044.5 492v5M1045.5 489v5M1046.5 487v6M1047.5 487v3M1048.5 484v5M1049.5 480v5M1050.5 479v5M1051.5 480v2M1052.5 478v6M1053.5 477v6M1054.5 479v6M1055.5 481v5M1056.5 479v5M1057.5 480v8M1058.5 488v4M1059.5 492v3M1060.5 494v7M1061.5 499v7M1062.5 502v5M1063.5 499v3M1064.5 493v7M1065.5 493v6M1066.5 491v7M1067.5 489v3M1068.5 483v8M1069.5 483v4M1070.5 482v5M1071.5 477v9M1072.5 479v7M1073.5 482v7M1074.5 480v8M1075.5 481v4M1076.5 481v4M1077.5 480v7M1078.5 482v4M1079.5 481v4M1080.5 480v6M1081.5 480v6M1082.5 483v5M1083.5 488v4M1084.5 487v8M1085.5 491v7M1086.5 493v7M1087.5 497v5M1088.5 502v6M1089.5 501v6M1090.5 498v3M1091.5 497v5M1092.5 490v9M1093.5 486v11M1094.5 484v10M1095.5 481v10M1096.5 479v10M1097.5 482v12M1098.5 485v5M1099.5 481v11M1100.5 480v9M1101.5 484v6M1102.5 483v8M1103.5 484v4M1104.5 481v7M1105.5 482v9M1106.5 485v10M1107.5 484v3M1108.5 485v6M1109.5 486v7M1110.5 483v10M1111.5 484v9M1112.5 482v7M1113.5 486v7M1114.5 482v10M1115.5 483v10M1116.5 485v7M1117.5 484v9M1118.5 484v12M1119.5 485v8M1120.5 489v7M1121.5 484v11M1122.5 482v17M1123.5 490v8M1124.5 490v9M1125.5 488v18M1126.5 500v7M1127.5 507v4M1128.5 505v8M1129.5 502v7M1130.5 496v9M1131.5 491v7M1132.5 491v6M1133.5 487v12M1134.5 490v6M1135.5 488v10M1136.5 485v7M1137.5 483v9M1138.5 483v5M1139.5 484v5M1140.5 482v5M1141.5 481v15M1142.5 474v16M1143.5 482v9M1144.5 484v10M1145.5 483v9M1146.5 476v17M1147.5 480v9M1148.5 422v71M1149.5 486v7M1150.5 417v72M1151.5 464v23M1152.5 484v3M1153.5 473v18M1154.5 484v10M1155.5 485v8M1156.5 468v26M1157.5 482v17M1158.5 484v6M1159.5 482v9M1160.5 475v19M1161.5 480v11M1162.5 488v5M1163.5 431v61M1164.5 483v7M1165.5 482v10M1166.5 473v18M1167.5 480v16M1168.5 487v5M1169.5 460v35M1170.5 485v47M1171.5 487v6"/>
<path stroke="#1e90ff" d="M92.5 549v1M93.5 549v1M94.5 549v1M95.5 549v1M96.5 549v1M97.5 549v1M98.5 549v1M99.5 549v1M100.5 549v1M101.5 549v1M102.5 549v1M103.5 549v1M104.5 549v1M105.5 549v1M106.5 549v1M107.5 549v1M108.5 549v1M109.5 549v1M110.5 549v1M111.5 549v1M112.5 549v1M113.5 549v1M114.5 549v1M115.5 549v1M116.5 549v1M117.5 549v1M118.5 549v1M119.5 549v1M120.5 549v1M121.5 549v1M122.5 549v1M123.5 549v1M124.5 549v1M125.5 549v1M126.5 549v1M127.5 549v1M128.5 549v1M129.5 549v1M130.5 549v1M131.5 549v1M132.5 549v1M133.5 549v1M134.5 549v1M135.5 549v1M136.5 549v1M137.5 549v1M138.5 550v1M139.5 549v1M140.5 550v1M141.5 549v1M142.5 549v1M143.5 550v1M144.5 549v1M145.5 549v1M146.5 550v1M147.5 550v1M148.5 549v1M149.5 549v1M150.5 549v1M151.5 550v1M152.5 550v1M153.5 549v1M154.5 549v1M155.5 549v1M156.5 549v1M157.5 550v1M158.5 550v1M159.5 550v1M160.5 549v1M161.5 549v1M162.5 549v1M163.5 549v1M164.5 549v1M165.5 549v1M166.5 549v1M167.5 550v1M168.5 550v1M169.5 550v1M170.5 549v1M171.5 549v1M172.5 549v1M173.5 549v1M174.5 549v1M175.5 549v1M176.5 549v1M177.5 549v1M178.5 549v1M179.5 549v1M180.5 549v1M181.5 549v1M182.5 550v1M183.5 550v1M184.5 549v1M185.5 549v1M186.5 549v1M187.5 549v1M188.5 549v1M189.5 549v1M190.5 549v1M191.5 549v1M192.5 549v1M193.5 549v1M194.5 549v1M195.5 549v1M196.5 549v1M197.5 549v1M198.5 549v1M199.5 549v1M200.5 549v1M201.5 549v1M202.5 549v1M203.5 549v1M204.5 549v1M205.5 550v1M206.5 550v1M207.5 550v1M208.5 549v1M209.5 549v1M210.5 549v1M211.5 549v1M212.5 549v1M213.5 549v1M214.5 549v1M215.5 549v1M216.5 549v1M217.5 549v1M218.5 549v1M219.5 549v1M220.5 549v1M221.5 549v1M222.5 549v1M223.5 549v1M224.5 549v1M225.5 549v1M226.5 549v1M227.5 549v1M228.5 549v1M229.5 549v1M230.5 549v1M231.5 549v1M232.5 549v1M233.5 549v1M234.5 549v1M235.5 549v1M236.5 549v1M237.5 549v1M238.5 549v1M239.5 549v1M240.5 549v1M241.5 549v1M242.5 549v1M243.5 549v1M244.5 549v1M245.5 549v1M246.5 550v1M247.5 550v1M248.5 550v1M249.5 550v1M250.5 550v1M251.5 550v1M252.5 549v1M253.5 549v1M254.5 549v1M255.5 549v1M256.5 549v1M257.5 549v1M258.5 549v1M259.5 549v1M260.5 549v1M261.5 549v1M262.5 549v1M263.5 549v1M264.5 549v1M265.5 549v1M266.5 549v1M267.5 549v1M268.5 549v1M269.5 549v1M270.5 549v1M271.5 549v1M272.5 550v1M273.5 550v1M274.5 550v1M275.5 550v1M276.5 550v1M277.5 550v1M278.5 550v1M279.5 550v1M280.5 550v1M281.5 550v1M282.5 550v1M283.5 550v1M284.5 550v1M285.5 550v1M286.5 550v1M287.5 550v1M288.5 550v1M289.5 550v1M290.5 550v1M291.5 550v1M292.5 550v1M293.5 550v1M294.5 550v1M295.5 550v1M296.5 550v1M297.5 550v1M298.5 550v1M299.5 550v1M300.5 550v1M301.5 550v1M302.5 550v1M303.5 550v1M304.5 550v1M305.5 550v1M306.5 550v1M307.5 550v1M308.5 550v1M309.5 550v1M310.5 550v1M311.5 550v1M312.5 550v1M313.5 550v1M314.5 550v1M315.5 550v1M316.5 550v1M317.5 550v1M318.5 550v1M319.5 550v1M320.5 550v1M321.5 550v1M322.5 548v2M323.5 548v1M324.5 548v1M325.5 548v1M326.5 548v1M327.5 548v1M328.5 548v1M329.5 548v1M330.5 548v1M331.5 548v1M332.5 548v1M333.5 548v1M334.5 548v1M335.5 548v1M336.5 548v1M337.5 548v1M338.5 548v1M339.5 548v1M340.5 549v1M341.5 549v1M342.5 549v1M343.5 549v1M344.5 549v1M345.5 549v1M346.5 548v1M347.5 548v1M348.5 548v1M349.5 548v1M350.5 548v1M351.5 548v1M352.5 548v1M353.5 548v1M354.5 548v1M355.5 548v1M356.5 548v1M357.5 548v1M358.5 548v1M359.5 548v1M360.5 548v1M361.5 548v1M362.5 548v1M363.5 548v1M364.5 548v1M365.5 548v1M366.5 548v1M367.5 548v1M368.5 548v1M369.5 548v1M370.5 548v1M371.5 548v1M372.5 548v1M373.5 548v1M374.5 548v1M375.5 548v1M376.5 548v1M377.5 548v1M378.5 548v1M379.5 548v1M380.5 548v1M381.5 548v1M382.5 548v1M383.5 548v1M384.5 548v1M385.5 548v1M386.5 548v1M387.5 548v1M388.5 548v1M389.5 548v1M390.5 548v1M391.5 548v1M392.5 548v1M393.5 548v1M394.5 548v1M395.5 548v1M396.5 548v1M397.5 548v1M398.5 548v1M399.5 548v1M400.5 548v1M401.5 548v1M402.5 548v1M403.5 548v1M404.5 548v1M405.5 548v1M406.5 548v1M407.5 548v1M408.5 548v1M409.5 548v1M410.5 548v1M411.5 548v1M412.5 548v1M413.5 548v1M414.5 548v1M415.5 548v1M416.5 548v1M417.5 548v1M418.5 548v1M419.5 548v1M420.5 548v1M421.5 548v1M422.5 548v1M423.5 548v1M424.5 548v1M425.5 548v1M426.5 548v1M427.5 548v1M428.5 548v1M429.5 548v1M430.5 548v1M431.5 548v1M432.5 548v1M433.5 548v1M434.5 548v1M435.5 548v1M436.5 548v1M437.5 548v1M438.5 548v1M439.5 548v1M440.5 548v1M441.5 548v1M442.5 548v1M443.5 548v1M444.5 548v1M445.5 548v1M446.5 548v1M447.5 548v1M448.5 548v1M449.5 548v1M450.5 548v1M451.5 548v1M452.5 549v1M453.5 549v1M454.5 549v1M455.5 549v1M456.5 549v1M457.5 549v1M458.5 549v1M459.5 549v1M460.5 549v1M461.5 549v1M462.5 549v1M463.5 549v1M464.5 549v1M465.5 549v1M466.5 549v1M467.5 549v1M468.5 549v1M469.5 549v1M470.5 549v1M471.5 549v1M472.5 549v1M473.5 549v1M474.5 549v1M475.5 549v1M476.5 549v1M477.5 549v1M478.5 550v1M479.5 550v1M480.5 550v1M481.5 550v1M482.5 550v1M483.5 550v1M484.5 550v1M485.5 550v1M486.5 550v1M487.5 550v1M488.5 550v1M489.5 550v1M490.5 550v1M491.5 550v1M492.5 550v1M493.5 550v1M494.5 550v1M495.5 550v1M496.5 550v1M497.5 550v1M498.5 550v1M499.5 550v1M500.5 550v1M501.5 550v1M502.5 550v1M503.5 550v1M504.5 550v1M505.5 550v1M506.5 550v1M507.5 550v1M508.5 550v1M509.5 550v1M510.5 550v1M511.5 550v1M512.5 550v1M513.5 550v1M514.5 550v1M515.5 550v1M516.5 550v1M517.5 550v1M518.5 550v1M519.5 550v1M520.5 550v1M521.5 550v1M522.5 550v1M523.5 550v1M524.5 550v1M525.5 550v1M526.5 550v1M527.5 550v1M528.5 550v1M529.5 550v1M530.5 550v1M531.5 550v1M532.5 550v1M533.5 550v1M534.5 550v1M535.5 550v1M536.5 550v1M537.5 550v1M538.5 550v1M539.5 550v1M540.5 550v1M541.5 550v1M542.5 550v1M543.5 550v1M544.5 550v1M545.5 550v1M546.5 550v1M547.5 549v1M548.5 549v1M549.5 549v1M550.5 549v1M551.5 549v1M552.5 549v1M553.5 549v1M554.5 549v1M555.5 549v1M556.5 549v1M557.5 549v1M558.5 549v1M559.5 549v1M560.5 549v1M561.5 549v1M562.5 549v1M563.5 549v1M564.5 549v1M565.5 549v1M566.5 549v1M567.5 549v1M568.5 549v1M569.5 549v1M570.5 549v1M571.5 549v1M572.5 549v1M573.5 549v1M574.5 549v1M575.5 549v1M576.5 549v1M577.5 549v1M578.5 549v1M579.5 549v1M580.5 549v1M581.5 549v1M582.5 550v1M583.5 550v1M584.5 550v1M585.5 550v1M586.5 550v1M587.5 550v1M588.5 550v1M589.5 550v1M590.5 550v1M591.5 550v1M592.5 550v1M593.5 550v1M594.5 550v1M595.5 550v1M596.5 550v1M597.5 550v1M598.5 550v1M599.5 550v1M600.5 550v1M601.5 550v1M602.5 550v1M603.5 550v1M604.5 550v1M605.5 550v1M606.5 550v1M607.5 550v1M608.5 550v1M609.5 550v1M610.5 550v1M611.5 550v1M612.5 550v1M613.5 550v1M614.5 550v1M615.5 550v1M616.5 550v1M617.5 550v1M618.5 550v1M619.5 550v1M620.5 550v1M621.5 550v1M622.5 550v1M623.5 550v1M624.5 550v1M625.5 550v1M626.5 550v1M627.5 550v1M628.5 550v1M629.5 550v1M630.5 550v1M631.5 550v1M632.5 550v1M633.5 550v1M634.5 550v1M635.5 550v1M636.5 550v1M637.5 550v1M638.5 550v1M639.5 550v1M640.5 550v1M641.5 550v1M642.5 550v1M643.5 550v1M644.5 550v1M645.5 550v1M646.5 550v1M647.5 550v1M648.5 550v1M649.5 550v1M650.5 550v1M651.5 550v1M652.5 550v1M653.5 550v1M654.5 550v1M655.5 550v1M656.5 550v1M657.5 550v1M658.5 550v1M659.5 550v1M660.5 550v1M661.5 550v1M662.5 550v1M663.5 550v1M664.5 550v1M665.5 550v1M666.5 550v1M667.5 550v1M668.5 550v1M669.5 550v1M670.5 550v1M671.5 550v1M672.5 550v1M673.5 550v1M674.5 550v1M675.5 550v1M676.5 550v1M677.5 550v1M678.5 550v1M679.5 550v1M680.5 550v1M681.5 550v1M682.5 550v1M683.5 550v1M684.5 550v1M685.5 550v1M686.5 550v1M687.5 550v1M688.5 550v1M689.5 550v1M690.5 550v1M691.5 550v1M692.5 550v1M693.5 550v1M694.5 550v1M695.5 550v1M696.5 550v1M697.5 550v1M698.5 550v1M699.5 550v1M700.5 550v1M701.5 550v1M702.5 550v1M703.5 550v1M704.5 550v1M705.5 550v1M706.5 550v1M707.5 550v1M708.5 550v1M709.5 550v1M710.5 550v1M711.5 550v1M712.5 550v1M713.5 550v1M714.5 550v1M715.5 550v1M716.5 550v1M717.5 550v1M718.5 550v1M719.5 550v1M720.5 550v1M721.5 550v1M722.5 550v1M723.5 550v1M724.5 550v1M725.5 550v1M726.5 550v1M727.5 550v1M728.5 550v1M729.5 550v1M730.5 550v1M731.5 550v1M732.5 550v1M733.5 550v1M734.5 550v1M735.5 550v1M736.5 550v1M737.5 550v1M738.5 550v1M739.5 550v1M740.5 550v1M741.5 550v1M742.5 550v1M743.5 550v1M744.5 550v1M745.5 550v1M746.5 550v1M747.5 550v1M748.5 550v1M749.5 550v1M750.5 550v1M751.5 550v1M752.5 550v1M753.5 550v1M754.5 550v1M755.5 550v1M756.5 550v1M757.5 550v1M758.5 550v1M759.5 550v1M760.5 550v1M761.5 550v1M762.5 550v1M763.5 550v1M764.5 550v1M765.5 550v1M766.5 550v1M767.5 550v1M768.5 550v1M769.5 550v1M770.5 550v1M771.5 550v1M772.5 550v1M773.5 550v1M774.5 550v1M775.5 550v1M776.5 550v1M777.5 550v1M778.5 550v1M779.5 550v1M780.5 550v1M781.5 550v1M782.5 550v1M783.5 550v1M784.5 550v1M785.5 550v1M786.5 550v1M787.5 550v1M788.5 550v1M789.5 550v1M790.5 550v1M791.5 550v1M792.5 550v1M793.5 550v1M794.5 550v1M795.5 550v1M796.5 550v1M797.5 550v1M798.5 550v1M799.5 550v1M800.5 550v1M801.5 550v1M802.5 550v1M803.5 550v1M804.5 550v1M805.5 550v1M806.5 550v1M807.5 550v1M808.5 550v1M809.5 550v1M810.5 550v1M811.5 550v1M812.5 550v1M813.5 550v1M814.5 550v1M815.5 550v1M816.5 550v1M817.5 550v1M818.5 550v1M819.5 550v1M820.5 550v1M821.5 550v1M822.5 550v1M823.5 550v1M824.5 550v1M825.5 550v1M826.5 550v1M827.5 550v1M828.5 550v1M829.5 550v1M830.5 550v1M831.5 550v1M832.5 550v1M833.5 550v1M834.5 550v1M835.5 550v1M836.5 550v1M837.5 550v1M838.5 550v1M839.5 550v1M840.5 550v1M841.5 550v1M842.5 550v1M843.5 550v1M844.5 550v1M845.5 550v1M846.5 550v1M847.5 550v1M848.5 550v1M849.5 550v1M850.5 550v1M851.5 550v1M852.5 550v1M853.5 550v1M854.5 550v1M855.5 550v1M856.5 550v1M857.5 550v1M858.5 550v1M859.5 550v1M860.5 550v1M861.5 550v1M862.5 550v1M863.5 550v1M864.5 550v1M865.5 550v1M866.5 550v1M867.5 550v1M868.5 550v1M869.5 550v1M870.5 550v1M871.5 550v1M872.5 550v1M873.5 550v1M874.5 550v1M875.5 550v1M876.5 550v1M877.5 550v1M878.5 550v1M879.5 550v1M880.5 550v1M881.5 550v1M882.5 550v1M883.5 550v1M884.5 550v1M885.5 550v1M886.5 550v1M887.5 550v1M888.5 550v1M889.5 550v1M890.5 550v1M891.5 550v1M892.5 550v1M893.5 550v1M894.5 550v1M895.5 550v1M896.5 550v1M897.5 550v1M898.5 550v1M899.5 550v1M900.5 550v1M901.5 550v1M902.5 550v1M903.5 550v1M904.5 550v1M905.5 550v1M906.5 550v1M907.5 550v1M908.5 550v1M909.5 550v1M910.5 550v1M911.5 550v1M912.5 550v1M913.5 550v1M914.5 550v1M915.5 550v1M916.5 550v1M917.5 550v1M918.5 550v1M919.5 550v1M920.5 550v1M921.5 550v1M922.5 550v1M923.5 550v1M924.5 550v1M925.5 550v1M926.5 550v1M927.5 550v1M928.5 550v1M929.5 550v1M930.5 550v1M931.5 550v1M932.5 551v1M933.5 551v1M934.5 551v1M935.5 551v1M936.5 551v1M937.5 551v1M938.5 551v1M939.5 551v1M940.5 551v1M941.5 551v1M942.5 551v1M943.5 551v1M944.5 551v1M945.5 551v1M946.5 551v1M947.5 551v1M948.5 550v2M949.5 551v1M950.5 551v1M951.5 551v1M952.5 551v1M953.5 551v1M954.5 551v1M955.5 551v1M956.5 551v1M957.5 551v1M958.5 551v1M959.5 551v1M960.5 551v1M961.5 551v1M962.5 551v1M963.5 551v1M964.5 550v2M965.5 551v1M966.5 551v1M967.5 551v1M968.5 551v1M969.5 551v1M970.5 551v1M971.5 551v1M972.5 551v1M973.5 551v1M974.5 551v1M975.5 551v1M976.5 551v1M977.5 551v1M978.5 551v1M979.5 551v1M980.5 551v1M981.5 551v1M982.5 551v1M983.5 551v1M984.5 551v1M985.5 551v1M986.5 551v1M987.5 551v1M988.5 551v1M989.5 551v1M990.5 551v1M991.5 551v1M992.5 551v1M993.5 551v1M994.5 551v1M995.5 551v1M996.5 551v1M997.5 551v1M998.5 551v1M999.5 551v1M1000.5 551v1M1001.5 551v1M1002.5 551v1M1003.5 551v1M1004.5 551v1M1005.5 551v1M1006.5 551v1M1007.5 551v1M1008.5 551v1M1009.5 551v1M1010.5 551v1M1011.5 551v1M1012.5 551v1M1013.5 551v1M1014.5 551v1M1015.5 551v1M1016.5 551v1M1017.5 551v1M1018.5 551v1M1019.5 551v1M1020.5 551v1M1021.5 551v1M1022.5 551v1M1023.5 551v1M1024.5 551v1M1025.5 551v1M1026.5 551v1M1027.5 551v1M1028.5 551v1M1029.5 551v1M1030.5 551v1M1031.5 551v1M1032.5 551v1M1033.5 551v1M1034.5 551v1M1035.5 551v1M1036.5 551v1M1037.5 551v1M1038.5 551v1M1039.5 551v1M1040.5 551v1M1041.5 551v1M1042.5 551v1M1043.5 551v1M1044.5 551v1M1045.5 551v1M1046.5 551v1M1047.5 551v1M1048.5 551v1M1049.5 551v1M1050.5 551v1M1051.5 551v1M1052.5 551v1M1053.5 551v1M1054.5 551v1M1055.5 551v1M1056.5 551v1M1057.5 551v1M1058.5 551v1M1059.5 551v1M1060.5 551v1M1061.5 551v1M1062.5 551v1M1063.5 551v1M1064.5 551v1M1065.5 551v1M1066.5 551v1M1067.5 551v1M1068.5 551v1M1069.5 551v1M1070.5 551v1M1071.5 551v1M1072.5 551v1M1073.5 551v1M1074.5 551v1M1075.5 551v1M1076.5 551v1M1077.5 551v1M1078.5 551v1M1079.5 551v1M1080.5 551v1M1081.5 551v1M1082.5 551v1M1083.5 551v1M1084.5 551v1M1085.5 551v1M1086.5 551v1M1087.5 551v1M1088.5 551v1M1089.5 551v1M1090.5 551v1M1091.5 551v1M1092.5 551v1M1093.5 551v1M1094.5 551v1M1095.5 551v1M1096.5 551v1M1097.5 551v1M1098.5 551v1M1099.5 551v1M1100.5 551v1M1101.5 551v1M1102.5 551v1M1103.5 551v1M1104.5 551v1M1105.5 551v1M1106.5 551v1M1107.5 550v2M1108.5 550v2M1109.5 551v1M1110.5 551v1M1111.5 551v1M1112.5 551v1M1113.5 551v1M1114.5 551v1M1115.5 551v1M1116.5 551v1M1117.5 551v1M1118.5 551v1M1119.5 551v1M1120.5 551v1M1121.5 551v1M1122.5 551v1M1123.5 551v1M1124.5 551v1M1125.5 551v1M1126.5 551v1M1127.5 551v1M1128.5 551v1M1129.5 551v1M1130.5 551v1M1131.5 551v1M1132.5 551v1M1133.5 551v1M1134.5 551v1M1135.5 551v1M1136.5 551v1M1137.5 551v1M1138.5 551v1M1139.5 551v1M1140.5 551v1M1141.5 551v1M1142.5 550v2M1143.5 550v2M1144.5 550v2M1145.5 550v2M1146.5 549v3M1147.5 550v2M1148.5 549v3M1149.5 550v2M1150.5 550v2M1151.5 550v2M1152.5 550v2M1153.5 550v2M1154.5 550v2M1155.5 550v2M1156.5 550v2M1157.5 550v2M1158.5 550v2M1159.5 549v3M1160.5 550v2M1161.5 550v2M1162.5 548v4M1163.5 550v2M1164.5 550v2M1165.5 550v2M1166.5 550v2M1167.5 548v4M1168.5 549v3M1169.5 550v2M1170.5 549v3"/>
<path stroke="#f00" d="M80.5 315v1M81.5 315v1M82.5 315v1M83.5 315v1M84.5 316v1M85.5 316v1M86.5 316v1M87.5 316v1M88.5 317v1M89.5 317v1M90.5 317v1M91.5 318v1M92.5 318v1M93.5 319v1M94.5 319v1M95.5 320v1M96.5 321v1M97.5 321v1M98.5 320v1M99.5 320v1M100.5 320v1M101.5 320v1M102.5 320v1M103.5 321v1M104.5 321v1M105.5 322v1M106.5 322v1M107.5 322v1M108.5 323v1M109.5 323v1M110.5 324v1M111.5 324v1M112.5 325v1M113.5 325v1M114.5 325v1M115.5 326v1M116.5 326v1M117.5 326v1M118.5 327v1M119.5 327v1M120.5 327v1M121.5 328v1M122.5 328v1M123.5 327v2M124.5 326v1M125.5 325v2M126.5 327v1M127.5 328v2M128.5 330v3M129.5 333v5M130.5 338v5M131.5 343v5M132.5 348v3M133.5 342v6M134.5 336v6M135.5 331v5M136.5 327v4M137.5 322v5M138.5 318v4M139.5 307v11M140.5 292v15M141.5 278v14M142.5 265v13M143.5 256v9M144.5 247v9M145.5 238v9M146.5 222v16M147.5 199v23M148.5 176v23M149.5 153v23M150.5 135v18M151.5 119v16M152.5 102v17M153.5 90v12M154.5 96v22M155.5 118v22M156.5 140v22M157.5 162v22M158.5 152v40M159.5 96v56M160.5 39v57M161.5 23v16M164.5 23v16M165.5 39v63M166.5 102v63M167.5 165v63M168.5 185v57M169.5 113v72M170.5 42v71M171.5 23v19M179.5 23v39M180.5 62v77M181.5 139v76M182.5 216v39M183.5 140v76M184.5 63v77M185.5 23v40M201.5 23v14M202.5 37v47M203.5 84v48M204.5 132v24M205.5 156v25M206.5 181v24M207.5 202v21M208.5 131v71M209.5 60v71M210.5 23v37M232.5 23v3M233.5 26v2M234.5 28v3M235.5 31v2M236.5 33v2M237.5 35v3M238.5 38v3M239.5 41v3M240.5 44v5M241.5 49v4M242.5 53v5M243.5 58v16M244.5 74v27M245.5 101v26M246.5 127v27M247.5 154v24M248.5 178v23M249.5 201v23M250.5 224v24M251.5 201v48M252.5 154v47M253.5 107v47M254.5 87v20M255.5 84v3M256.5 81v3M257.5 79v2M258.5 78v1M259.5 77v1M260.5 76v1M261.5 76v1M262.5 76v1M263.5 76v1M264.5 77v1M265.5 77v1M266.5 78v1M267.5 78v1M268.5 79v1M269.5 80v1M270.5 81v2M271.5 83v3M272.5 86v2M273.5 88v2M274.5 90v2M275.5 92v1M276.5 93v2M277.5 95v2M278.5 97v2M279.5 99v2M280.5 101v1M281.5 102v2M282.5 104v2M283.5 106v2M284.5 108v2M285.5 110v1M286.5 111v1M287.5 112v1M288.5 113v1M289.5 114v1M290.5 115v1M291.5 116v1M292.5 117v1M293.5 118v1M294.5 119v1M295.5 120v1M296.5 121v1M297.5 122v1M298.5 123v1M299.5 124v2M300.5 126v1M301.5 127v1M302.5 128v2M303.5 130v1M304.5 131v2M305.5 133v1M306.5 134v1M307.5 135v2M308.5 137v1M309.5 138v2M310.5 140v2M311.5 142v2M312.5 144v3M313.5 147v2M314.5 149v2M315.5 151v1M316.5 152v1M317.5 152v1M318.5 152v1M319.5 152v1M320.5 153v1M321.5 154v1M322.5 155v2M323.5 157v1M324.5 158v2M325.5 160v1M326.5 161v1M327.5 162v2M328.5 164v1M329.5 165v1M330.5 166v3M331.5 169v2M332.5 171v3M333.5 174v3M334.5 177v3M335.5 180v4M336.5 184v8M337.5 192v12M338.5 204v16M339.5 220v20M340.5 240v20M341.5 260v21M342.5 281v21M343.5 302v21M344.5 307v23M345.5 277v30M346.5 247v30M347.5 222v25M348.5 210v12M349.5 202v8M350.5 201v1M351.5 200v1M352.5 199v1M353.5 199v1M354.5 199v1M355.5 199v1M356.5 199v1M357.5 200v1M358.5 200v1M359.5 201v1M360.5 202v1M361.5 202v1M362.5 203v1M363.5 204v1M364.5 205v1M365.5 206v1M366.5 207v1M367.5 208v2M368.5 210v1M369.5 211v1M370.5 212v2M371.5 214v1M372.5 215v1M373.5 216v2M374.5 218v1M375.5 219v1M376.5 220v1M377.5 221v1M378.5 222v1M379.5 222v1M380.5 223v1M381.5 223v1M382.5 224v1M383.5 224v1M384.5 225v1M385.5 226v1M386.5 227v1M387.5 228v1M388.5 229v1M389.5 230v2M390.5 232v1M391.5 233v1M392.5 234v1M393.5 235v2M394.5 237v1M395.5 238v1M396.5 239v2M397.5 241v1M398.5 242v1M399.5 243v1M400.5 244v1M401.5 244v1M402.5 245v1M403.5 245v1M404.5 246v1M405.5 247v1M406.5 248v1M407.5 249v1M408.5 250v1M409.5 251v1M410.5 252v1M411.5 253v1M412.5 254v1M413.5 255v1M414.5 256v1M415.5 257v1M416.5 258v1M417.5 258v1M418.5 259v1M419.5 259v1M420.5 260v1M421.5 260v1M422.5 261v1M423.5 262v1M424.5 263v1M425.5 264v1M426.5 265v1M427.5 266v1M428.5 267v1M429.5 268v1M430.5 269v1M431.5 269v1M432.5 270v1M433.5 271v1M434.5 272v1M435.5 273v1M436.5 274v1M437.5 275v1M438.5 276v1M439.5 277v1M440.5 278v1M441.5 278v1M442.5 279v1M443.5 280v1M444.5 281v1M445.5 282v1M446.5 283v1M447.5 284v1M448.5 284v1M449.5 285v1M450.5 286v1M451.5 287v1M452.5 287v1M453.5 288v1M454.5 289v1M455.5 290v1M456.5 290v1M457.5 291v1M458.5 292v1M459.5 293v1M460.5 293v1M461.5 294v1M462.5 295v1M463.5 296v1M464.5 296v1M465.5 297v1M466.5 298v1M467.5 298v1M468.5 299v1M469.5 300v1M470.5 301v1M471.5 301v1M472.5 302v1M473.5 303v1M474.5 303v1M475.5 304v1M476.5 305v1M477.5 305v1M478.5 306v1M479.5 307v1M480.5 308v1M481.5 308v1M482.5 309v1M483.5 310v1M484.5 310v1M485.5 311v1M486.5 312v1M487.5 312v1M488.5 313v1M489.5 314v1M490.5 315v1M491.5 315v1M492.5 316v1M493.5 316v1M494.5 317v1M495.5 318v1M496.5 318v1M497.5 319v1M498.5 320v1M499.5 320v1M500.5 321v1M501.5 322v1M502.5 322v1M503.5 323v1M504.5 323v1M505.5 324v1M506.5 325v1M507.5 325v1M508.5 326v1M509.5 327v1M510.5 327v1M511.5 328v1M512.5 329v1M513.5 329v1M514.5 330v1M515.5 331v1M516.5 331v1M517.5 332v1M518.5 332v1M519.5 333v1M520.5 334v1M521.5 334v1M522.5 335v1M523.5 336v1M524.5 336v1M525.5 337v1M526.5 338v1M527.5 338v1M528.5 339v1M529.5 340v1M530.5 340v1M531.5 341v1M532.5 342v1M533.5 342v1M534.5 343v1M535.5 344v1M536.5 344v1M537.5 345v1M538.5 346v1M539.5 346v1M540.5 347v1M541.5 348v1M542.5 348v1M543.5 349v1M544.5 349v1M545.5 350v1M546.5 350v1M547.5 351v1M548.5 351v1M549.5 352v1M550.5 352v1M551.5 353v1M552.5 353v1M553.5 354v1M554.5 355v1M555.5 355v1M556.5 356v1M557.5 356v1M558.5 357v1M559.5 357v1M560.5 358v1M561.5 358v1M562.5 359v1M563.5 359v1M564.5 360v1M565.5 361v1M566.5 361v1M567.5 361v1M568.5 362v1M569.5 362v1M570.5 363v1M571.5 363v1M572.5 364v1M573.5 364v1M574.5 365v1M575.5 365v1M576.5 366v1M577.5 366v1M578.5 366v1M579.5 367v1M580.5 367v1M581.5 368v1M582.5 368v1M583.5 369v1M584.5 369v1M585.5 370v1M586.5 370v1M587.5 371v1M588.5 371v1M589.5 372v1M590.5 372v1M591.5 372v1M592.5 373v1M593.5 373v1M594.5 374v1M595.5 374v1M596.5 375v1M597.5 375v1M598.5 376v1M599.5 376v1M600.5 377v1M601.5 377v1M602.5 378v1M603.5 378v1M604.5 378v1M605.5 379v1M606.5 379v1M607.5 380v1M608.5 380v1M609.5 381v1M610.5 381v1M611.5 382v1M612.5 382v1M613.5 383v1M614.5 383v1M615.5 384v1M616.5 384v1M617.5 384v1M618.5 385v1M619.5 385v1M620.5 386v1M621.5 386v1M622.5 387v1M623.5 387v1M624.5 388v1M625.5 388v1M626.5 389v1M627.5 389v1M628.5 389v1M629.5 390v1M630.5 390v1M631.5 391v1M632.5 391v1M633.5 391v1M634.5 392v1M635.5 392v1M636.5 393v1M637.5 394v1M638.5 395v1M639.5 396v1M640.5 397v2M641.5 399v2M642.5 401v4M643.5 405v5M644.5 410v5M645.5 415v6M646.5 421v6M647.5 427v6M648.5 433v6M649.5 439v7M650.5 437v10M651.5 427v10M652.5 418v9M653.5 410v8M654.5 408v2M655.5 407v1M656.5 405v2M657.5 404v1M658.5 404v1M659.5 404v1M660.5 403v1M661.5 403v1M662.5 404v1M663.5 404v1M664.5 404v1M665.5 404v1M666.5 405v1M667.5 405v1M668.5 405v1M669.5 405v1M670.5 405v1M671.5 406v1M672.5 406v1M673.5 406v1M674.5 406v1M675.5 407v1M676.5 407v1M677.5 407v1M678.5 408v1M679.5 408v1M680.5 408v1M681.5 409v1M682.5 409v1M683.5 409v1M684.5 410v1M685.5 410v1M686.5 410v1M687.5 411v1M688.5 411v1M689.5 411v1M690.5 412v1M691.5 412v1M692.5 412v1M693.5 413v1M694.5 413v1M695.5 414v1M696.5 414v1M697.5 414v1M698.5 415v1M699.5 415v1M700.5 415v1M701.5 416v1M702.5 416v1M703.5 416v1M704.5 417v1M705.5 417v1M706.5 417v1M707.5 418v1M708.5 418v1M709.5 418v1M710.5 419v1M711.5 419v1M712.5 419v1M713.5 420v1M714.5 420v1M715.5 421v1M716.5 421v1M717.5 421v1M718.5 422v1M719.5 422v1M720.5 422v1M721.5 423v1M722.5 423v1M723.5 423v1M724.5 424v1M725.5 424v1M726.5 424v1M727.5 425v1M728.5 425v1M729.5 425v1M730.5 426v1M731.5 426v1M732.5 426v1M733.5 427v1M734.5 427v1M735.5 427v1M736.5 428v1M737.5 428v1M738.5 428v1M739.5 428v1M740.5 429v1M741.5 429v1M742.5 429v1M743.5 430v1M744.5 430v1M745.5 430v1M746.5 431v1M747.5 431v1M748.5 431v1M749.5 432v1M750.5 432v1M751.5 432v1M752.5 433v1M753.5 433v1M754.5 433v1M755.5 433v1M756.5 434v1M757.5 434v1M758.5 434v1M759.5 435v1M760.5 435v1M761.5 435v1M762.5 435v1M763.5 436v1M764.5 436v1M765.5 436v1M766.5 436v1M767.5 437v1M768.5 437v1M769.5 437v1M770.5 438v1M771.5 438v1M772.5 438v1M773.5 438v1M774.5 439v1M775.5 439v1M776.5 439v1M777.5 439v1M778.5 440v1M779.5 440v1M780.5 440v1M781.5 440v1M782.5 441v1M783.5 441v1M784.5 441v1M785.5 441v1M786.5 442v1M787.5 442v1M788.5 442v1M789.5 442v1M790.5 443v1M791.5 443v1M792.5 443v1M793.5 443v1M794.5 444v1M795.5 444v1M796.5 444v1M797.5 444v1M798.5 445v1M799.5 445v1M800.5 445v1M801.5 445v1M802.5 445v1M803.5 446v1M804.5 446v1M805.5 446v1M806.5 446v1M807.5 447v1M808.5 447v1M809.5 447v1M810.5 447v1M811.5 448v1M812.5 448v1M813.5 448v1M814.5 448v1M815.5 448v1M816.5 449v1M817.5 449v1M818.5 449v1M819.5 449v1M820.5 450v1M821.5 450v1M822.5 450v1M823.5 450v1M824.5 451v1M825.5 451v1M826.5 451v1M827.5 451v1M828.5 452v1M829.5 452v1M830.5 452v1M831.5 452v1M832.5 453v1M833.5 453v1M834.5 453v1M835.5 453v1M836.5 454v1M837.5 454v1M838.5 454v1M839.5 454v1M840.5 455v1M841.5 455v1M842.5 455v1M843.5 455v1M844.5 456v1M845.5 456v1M846.5 456v1M847.5 456v1M848.5 457v1M849.5 457v1M850.5 457v1M851.5 457v1M852.5 457v1M853.5 458v1M854.5 458v1M855.5 458v1M856.5 458v1M857.5 458v1M858.5 459v1M859.5 459v1M860.5 459v1M861.5 459v1M862.5 459v1M863.5 460v1M864.5 460v1M865.5 460v1M866.5 460v1M867.5 460v1M868.5 461v1M869.5 461v1M870.5 461v1M871.5 461v1M872.5 461v1M873.5 462v1M874.5 462v1M875.5 462v1M876.5 462v1M877.5 462v1M878.5 463v1M879.5 463v1M880.5 463v1M881.5 463v1M882.5 463v1M883.5 463v1M884.5 464v1M885.5 464v1M886.5 464v1M887.5 464v1M888.5 464v1M889.5 465v1M890.5 465v1M891.5 465v1M892.5 465v1M893.5 465v1M894.5 465v1M895.5 466v1M896.5 466v1M897.5 466v1M898.5 466v1M899.5 466v1M900.5 467v1M901.5 467v1M902.5 467v1M903.5 467v1M904.5 467v1M905.5 467v1M906.5 468v1M907.5 468v1M908.5 468v1M909.5 468v1M910.5 468v1M911.5 469v1M912.5 469v1M913.5 469v1M914.5 469v1M915.5 469v1M916.5 470v1M917.5 470v1M918.5 470v1M919.5 470v1M920.5 470v1M921.5 470v1M922.5 471v1M923.5 471v1M924.5 471v1M925.5 471v1M926.5 471v1M927.5 472v1M928.5 472v1M929.5 472v1M930.5 472v1M931.5 472v1M932.5 473v1M933.5 473v1M934.5 473v1M935.5 473v1M936.5 473v1M937.5 473v1M938.5 473v1M939.5 473v1M940.5 473v1M941.5 474v1M942.5 474v1M943.5 474v1M944.5 474v1M945.5 474v1M946.5 474v1M947.5 474v1M948.5 474v1M949.5 474v1M950.5 475v1M951.5 475v1M952.5 475v1M953.5 475v1M954.5 475v1M955.5 475v1M956.5 475v1M957.5 475v1M958.5 476v1M959.5 476v1M960.5 476v1M961.5 476v1M962.5 476v1M963.5 477v1M964.5 477v1M965.5 477v1M966.5 477v1M967.5 478v1M968.5 478v1M969.5 478v1M970.5 479v1M971.5 479v1M972.5 479v1M973.5 480v1M974.5 480v1M975.5 480v1M976.5 480v1M977.5 481v1M978.5 481v1M979.5 481v1M980.5 482v1M981.5 482v1M982.5 483v1M983.5 483v1M984.5 483v1M985.5 484v1M986.5 484v1M987.5 484v1M988.5 485v1M989.5 485v1M990.5 485v1M991.5 486v1M992.5 485v1M993.5 485v1M994.5 485v1M995.5 486v1M996.5 486v1M997.5 488v1M998.5 487v1M999.5 486v1M1000.5 485v1M1001.5 483v2M1002.5 485v1M1003.5 486v2M1004.5 488v2M1005.5 488v3M1006.5 484v4M1007.5 481v3M1008.5 480v1M1009.5 481v2M1010.5 483v1M1011.5 484v1M1012.5 485v2M1013.5 487v1M1014.5 488v2M1015.5 489v2M1016.5 487v2M1017.5 486v1M1018.5 484v2M1019.5 483v1M1020.5 481v2M1021.5 480v2M1022.5 482v3M1023.5 485v2M1024.5 487v3M1025.5 490v3M1026.5 493v2M1027.5 494v2M1028.5 492v2M1029.5 490v2M1030.5 488v2M1031.5 486v2M1032.5 484v2M1033.5 482v2M1034.5 480v2M1035.5 479v3M1036.5 482v3M1037.5 485v3M1038.5 488v3M1039.5 491v3M1040.5 494v3M1041.5 497v4M1042.5 498v2M1043.5 496v2M1044.5 494v2M1045.5 492v2M1046.5 490v2M1047.5 487v3M1048.5 485v2M1049.5 483v2M1050.5 481v2M1051.5 480v1M1052.5 480v1M1053.5 480v1M1054.5 481v1M1055.5 481v1M1056.5 482v2M1057.5 484v3M1058.5 487v3M1059.5 490v3M1060.5 493v3M1061.5 496v3M1062.5 499v3M1063.5 498v3M1064.5 496v2M1065.5 494v2M1066.5 492v2M1067.5 489v3M1068.5 487v2M1069.5 485v2M1070.5 484v1M1071.5 484v1M1072.5 483v1M1073.5 483v1M1074.5 483v1M1075.5 482v1M1076.5 482v1M1077.5 482v1M1078.5 483v1M1079.5 483v1M1080.5 483v1M1081.5 484v1M1082.5 484v2M1083.5 486v3M1084.5 489v3M1085.5 492v2M1086.5 494v3M1087.5 497v2M1088.5 499v2M1089.5 500v2M1090.5 498v2M1091.5 496v2M1092.5 494v2M1093.5 492v2M1094.5 490v2M1095.5 488v2M1096.5 487v1M1097.5 486v1M1098.5 486v1M1099.5 486v1M1100.5 486v1M1101.5 486v1M1102.5 486v1M1103.5 486v1M1104.5 486v1M1105.5 486v1M1106.5 486v1M1107.5 486v1M1108.5 486v1M1109.5 487v1M1110.5 487v1M1111.5 487v1M1112.5 487v1M1113.5 487v1M1114.5 488v1M1115.5 488v1M1116.5 488v1M1117.5 488v1M1118.5 489v1M1119.5 489v1M1120.5 490v1M1121.5 491v1M1122.5 492v1M1123.5 493v3M1124.5 496v3M1125.5 499v3M1126.5 502v2M1127.5 504v3M1128.5 506v2M1129.5 503v3M1130.5 501v2M1131.5 498v3M1132.5 496v2M1133.5 495v1M1134.5 495v1M1135.5 494v1M1136.5 493v1M1137.5 493v1M1138.5 492v1M1139.5 492v1M1140.5 492v1M1141.5 492v1M1142.5 492v1M1143.5 492v1M1144.5 492v1M1145.5 492v1M1146.5 492v1M1147.5 492v1M1148.5 492v1M1149.5 492v1M1150.5 492v1M1151.5 492v1M1152.5 492v1M1153.5 492v1M1154.5 492v1M1155.5 493v1M1156.5 493v1M1157.5 493v1M1158.5 493v1M1159.5 493v1M1160.5 493v1M1161.5 493v1M1162.5 493v1M1163.5 493v1M1164.5 494v1M1165.5 494v1M1166.5 494v1M1167.5 494v1M1168.5 494v1M1169.5 495v1M1170.5 495v1M1171.5 495v1M1172.5 495v1M1173.5 496v1M1174.5 496v1M1175.5 496v1M1176.5 496v2"/>
</svg>
</body>
</html>
